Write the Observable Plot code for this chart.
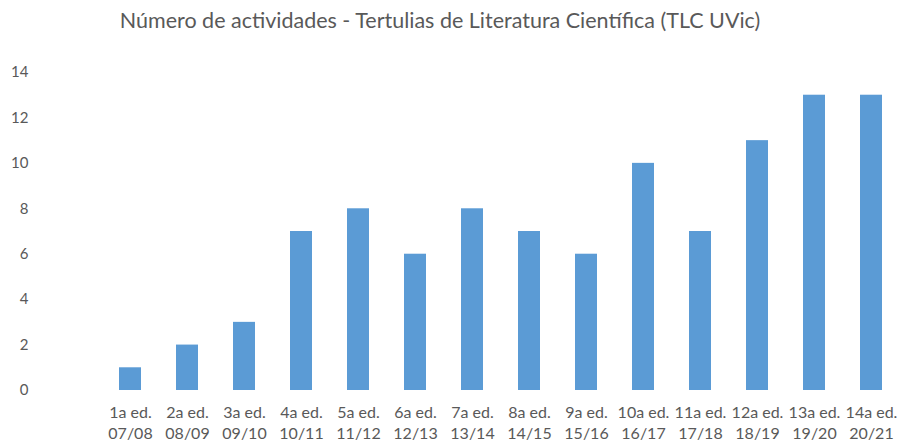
<!DOCTYPE html>
<html>
<head>
<meta charset="utf-8">
<script src="https://cdn.jsdelivr.net/npm/d3@7"></script>
<script src="https://cdn.jsdelivr.net/npm/@observablehq/plot@0.6"></script>
<style>
  html, body { margin: 0; padding: 0; background: #fff; }
  #title { height: 50px; box-sizing: border-box; padding-top: 7px; padding-right: 17px; text-align: center;
    font-family: Lato, "Open Sans", sans-serif; font-size: 21.5px; color: #595959; white-space: nowrap; }
  #chart svg { display: block; }
</style>
</head>
<body>
<div id="title">Número de actividades - Tertulias de Literatura Científica (TLC UVic)</div>
<div id="chart"></div>
<script>
const editions = ["1a ed.", "2a ed.", "3a ed.", "4a ed.", "5a ed.", "6a ed.", "7a ed.", "8a ed.", "9a ed.", "10a ed.", "11a ed.", "12a ed.", "13a ed.", "14a ed."];
const seasons = ["07/08", "08/09", "09/10", "10/11", "11/12", "12/13", "13/14", "14/15", "15/16", "16/17", "17/18", "18/19", "19/20", "20/21"];
const activities = [1, 2, 3, 7, 8, 6, 8, 7, 6, 10, 7, 11, 13, 13];
const yTicks = [0, 2, 4, 6, 8, 10, 12, 14];

const labels = editions.map((e, i) => e + "\n" + seasons[i]);
const data = labels.map((l, i) => ({label: l, value: activities[i]}));
const domain = [" ", ...labels];

const chart = Plot.plot({
  width: 897,
  height: 391,
  marginTop: 22,
  marginBottom: 51,
  marginLeft: 45,
  marginRight: 0,
  style: {fontFamily: "Lato, 'Open Sans', sans-serif", color: "#595959", background: "#fff"},
  x: {domain, range: [45, 900], paddingInner: 0.61, paddingOuter: 0.305, axis: null},
  y: {domain: [0, 14], ticks: yTicks, axis: null},
  marks: [
    Plot.gridY(yTicks, {stroke: "#d9d9d9", strokeOpacity: 1, strokeWidth: 1.3, x1: 45, x2: 897}),
    Plot.barY(data, {x: "label", y: "value", fill: "#5b9bd5"}),
    Plot.axisY(yTicks, {tickSize: 0, tickPadding: 17, fontSize: 15, fill: "#595959", label: null}),
    Plot.axisX(labels, {tickSize: 0, tickPadding: 12, fontSize: 16, lineHeight: 1.33, fill: "#595959", label: null})
  ]
});
document.getElementById("chart").appendChild(chart);
</script>
</body>
</html>
